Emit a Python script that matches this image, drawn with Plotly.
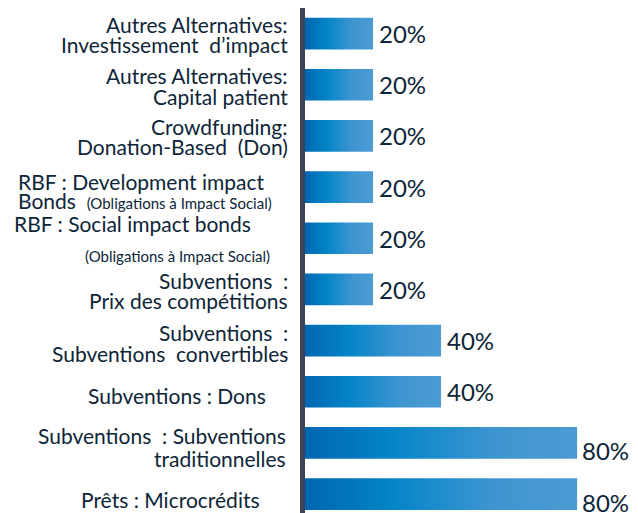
import plotly.graph_objects as go

# données (du haut vers le bas)
labels = [
    ["Autres Alternatives:", "Investissement  d’impact"],
    ["Autres Alternatives:", "Capital patient"],
    ["Crowdfunding:", "Donation-Based  (Don)"],
    ["RBF : Development impact", "Bonds  <span style='font-size:15px'>(Obligations à Impact Social)</span>"],
    ["RBF : Social impact bonds", "<span style='font-size:15px'>(Obligations à Impact Social)</span>"],
    ["Subventions  :", "Prix des compétitions"],
    ["Subventions  :", "Subventions  convertibles"],
    ["Subventions : Dons"],
    ["Subventions  : Subventions", "traditionnelles"],
    ["Prêts : Microcrédits"],
]
values = [20, 20, 20, 20, 20, 20, 40, 40, 80, 80]
value_text = [f"{v}%" for v in values]

# style des libellés : (ancrage, décalage x en px depuis l'axe, décalages y des lignes)
label_style = [
    ("right", -15, [-9, 11]),
    ("right", -15, [-9, 12]),
    ("right", -15, [-9, 11]),
    ("left", -289, [-6, 13]),
    ("left", -293, [-15, 18]),
    ("right", -15, [-9, 11]),
    ("right", -15, [-8, 13]),
    ("right", -37, [4]),
    ("right", -17, [-7, 16]),
    ("right", -43, [5]),
]
label_style_x_small = {4: (1, "left", -222)}

TXT = "#0d2538"
FONT = "Lato"
half = 0.31

fig = go.Figure()
for i, v in enumerate(values):
    fig.add_trace(go.Scatter(
        x=[0, v, v, 0, 0], y=[i - half, i - half, i + half, i + half, i - half],
        mode="lines", line=dict(width=0), fill="toself",
        fillgradient=dict(type="horizontal",
                          colorscale=[[0, "#0066b2"], [0.33, "#0585c8"], [0.7, "#3f95d0"], [1, "#4c9bd4"]]),
        hoverinfo="skip", showlegend=False,
    ))

annotations = []
for i, lines in enumerate(labels):
    anchor, dx, dys = label_style[i]
    for j, line in enumerate(lines):
        a, x = anchor, dx
        if i in label_style_x_small and label_style_x_small[i][0] == j:
            _, a, x = label_style_x_small[i]
        annotations.append(dict(
            x=0, y=i, xref="x", yref="y", text=line, showarrow=False,
            xanchor=a, yanchor="middle", xshift=x, yshift=-dys[j],
            font=dict(family=FONT, size=21, color=TXT),
        ))
for i, (v, t) in enumerate(zip(values, value_text)):
    annotations.append(dict(
        x=v, y=i, xref="x", yref="y", text=t, showarrow=False,
        xanchor="left", yanchor="middle", xshift=4 if v < 80 else 3,
        yshift=0 if v < 80 else -8,
        font=dict(family=FONT, size=24, color=TXT),
    ))

# la page ajoute une marge de 8 px autour de la figure
fig.update_layout(
    width=630, height=505,
    margin=dict(l=297, r=0, t=0, b=0),
    paper_bgcolor="white", plot_bgcolor="white",
    xaxis=dict(range=[0, 97.9], visible=False, fixedrange=True),
    yaxis=dict(range=[9.37, -0.5], showticklabels=False, showgrid=False, zeroline=False,
               showline=True, linewidth=5, linecolor="#3a4454", ticks=""),
    annotations=annotations,
    showlegend=False,
)

fig.write_html("out.html")
